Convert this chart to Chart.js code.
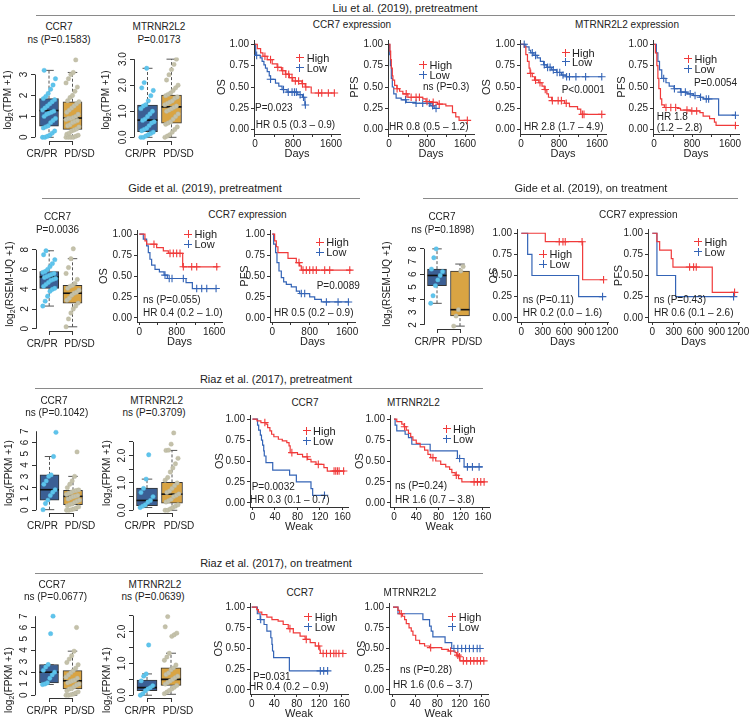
<!DOCTYPE html>
<html><head><meta charset="utf-8">
<script src="https://cdn.jsdelivr.net/npm/chart.js@4.4.1/dist/chart.umd.min.js"></script>
<style>
html,body{margin:0;padding:0;background:#fff;}
#fig{position:relative;width:750px;height:718px;overflow:hidden;font-family:"Liberation Sans",Arial,Helvetica,sans-serif;color:#222;}
#fig canvas{position:absolute;}
.t{position:absolute;white-space:nowrap;line-height:1;}
.t sub{font-size:70%;vertical-align:-0.25em;line-height:0;}
.hr{position:absolute;height:0;border-top:1.4px solid #8a8a8a;}
</style></head><body><div id="fig"></div>
<script>
// ================= DATA =================
const groups = ['CR/PR', 'PD/SD'];
const survTicks = [0, 0.25, 0.5, 0.75, 1];
const dayTicks = [0, 400, 800, 1200, 1600];
const dayTickLabels = ['0', '', '800', '', '1600'];
const gideOnDayTicks = [0, 300, 600, 900, 1200];
const gideOnDayLabels = ['0', '300', '600', '900', '1200'];
const weekTicks = [0, 40, 80, 120, 160];
const weekTickLabels = ['0', '40', '80', '120', '160'];

// boxplot stats: [lower whisker, Q1, median, Q3, upper whisker]
const liuCcr7BoxCR = [0, 0.53, 1.28, 1.85, 3.2];
const liuCcr7BoxPD = [0, 0.38, 0.92, 1.7, 3.1];
const liuMtrBoxCR = [0, 0.22, 0.66, 1.24, 2.65];
const liuMtrBoxPD = [0, 0.54, 1.17, 1.62, 3.0];
const gidePreBoxCR = [2.3, 4.1, 5.25, 5.8, 7.9];
const gidePreBoxPD = [0.2, 2.6, 3.6, 4.4, 7.1];
const gideOnBoxCR = [3.7, 5.1, 5.9, 6.4, 8.0];
const gideOnBoxPD = [1.9, 2.7, 3.2, 6.25, 6.8];
const riazPreCcr7BoxCR = [0.05, 0.9, 1.82, 3.13, 4.76];
const riazPreCcr7BoxPD = [0, 0.49, 1.23, 1.77, 3.0];
const riazPreMtrBoxCR = [0.1, 0.17, 0.36, 0.81, 1.14];
const riazPreMtrBoxPD = [0, 0.26, 0.59, 1.02, 2.19];
const riazOnCcr7BoxCR = [0.95, 1.09, 2.04, 2.72, 2.72];
const riazOnCcr7BoxPD = [0, 0.55, 1.28, 2.18, 3.9];
const riazOnMtrBoxCR = [0, 0.14, 0.24, 0.48, 0.67];
const riazOnMtrBoxPD = [0.03, 0.31, 0.5, 0.86, 1.32];

// boxplot individual points
const liuCcr7PtsCR = [0,0,0.05,0.1,0.2,0.3,0.45,0.5,0.55,0.7,0.8,0.9,1.0,1.1,1.15,1.2,1.25,1.3,1.4,1.5,1.6,1.7,1.8,1.85,1.95,2.1,2.3,2.5,2.8,3.2];
const liuCcr7PtsPD = [0,0,0,0,0.05,0.1,0.15,0.2,0.3,0.35,0.4,0.5,0.55,0.6,0.7,0.75,0.8,0.85,0.9,0.9,0.95,1.0,1.1,1.2,1.3,1.4,1.5,1.6,1.7,1.75,1.9,2.0,2.2,2.4,2.6,2.8,3.0,3.1,3.7];
const liuMtrPtsCR = [0,0,0.05,0.1,0.15,0.2,0.25,0.3,0.35,0.45,0.55,0.6,0.65,0.7,0.8,0.9,1.0,1.1,1.2,1.25,1.4,1.6,1.8,1.9,2.1,2.65];
const liuMtrPtsPD = [0,0.05,0.1,0.2,0.3,0.4,0.5,0.55,0.6,0.7,0.8,0.9,1.0,1.05,1.1,1.15,1.2,1.25,1.3,1.35,1.4,1.5,1.55,1.6,1.65,1.7,1.8,1.9,2.0,2.2,2.4,2.6,2.8,3.0];
const gidePrePtsCR = [2.3,2.8,3.3,3.8,4.0,4.1,4.3,4.5,4.7,4.9,5.0,5.1,5.2,5.3,5.4,5.5,5.6,5.7,5.8,6.0,6.3,6.6,7.0,7.5,7.9];
const gidePrePtsPD = [0.2,1.0,1.6,2.0,2.3,2.6,2.9,3.1,3.4,3.6,3.7,3.9,4.1,4.3,4.4,4.6,5.0,5.6,6.2,7.1,8.1];
const gideOnPtsCR = [3.7,4.3,5.1,5.55,5.9,6.2,6.4,7.3,8.0];
const gideOnPtsPD = [1.9,2.7,3.2,6.25,6.6];
const riazPreCcr7PtsCR = [0.05,0.6,0.9,1.3,1.6,1.82,2.3,2.6,3.0,3.13,4.76,6.9];
const riazPreCcr7PtsPD = [0,0,0.05,0.1,0.2,0.3,0.4,0.5,0.55,0.7,0.8,0.9,1.0,1.1,1.2,1.25,1.3,1.4,1.5,1.6,1.7,1.75,1.8,2.0,2.3,2.6,3.0,5.17];
const riazPreMtrPtsCR = [0.1,0.15,0.2,0.3,0.36,0.5,0.65,0.8,1.14,2.03];
const riazPreMtrPtsPD = [0,0,0.05,0.1,0.15,0.2,0.3,0.35,0.4,0.5,0.55,0.6,0.65,0.7,0.8,0.9,1.0,1.1,1.2,1.4,1.55,1.7,1.9,2.19,2.2,2.42,2.83];
const riazOnCcr7PtsCR = [0.95,1.0,1.1,1.5,1.8,2.04,2.2,2.5,2.72,5.45,7.0];
const riazOnCcr7PtsPD = [0,0,0.05,0.1,0.2,0.3,0.4,0.55,0.6,0.75,0.9,1.0,1.1,1.2,1.28,1.35,1.5,1.6,1.8,2.0,2.18,2.4,2.7,2.9,3.2,3.5,3.9,6.0];
const riazOnMtrPtsCR = [0,0.05,0.14,0.2,0.24,0.3,0.45,0.6,0.67,1.58];
const riazOnMtrPtsPD = [0.05,0.1,0.15,0.2,0.25,0.31,0.35,0.4,0.45,0.5,0.55,0.6,0.65,0.7,0.8,0.86,0.95,1.1,1.2,1.32,1.85,1.9,1.95,2.15,2.47];

// Kaplan-Meier curves: [time, survival] ; censor times
const liuCcr7OsHigh = [[0,1],[49,0.95],[118,0.90],[167,0.86],[257,0.82],[362,0.77],[466,0.73],[557,0.69],[640,0.65],[724,0.61],[793,0.57],[988,0.54],[1057,0.50],[1183,0.43],[1683,0.43]];
const liuCcr7OsHighCens = [209,327,480,584,650,710,779,849,918,1000,1070,1336,1405,1544,1670];
const liuCcr7OsLow = [[0,1],[14,0.87],[110,0.84],[150,0.80],[188,0.76],[220,0.72],[257,0.68],[300,0.63],[327,0.59],[431,0.545],[501,0.51],[570,0.47],[675,0.44],[900,0.41],[1000,0.38],[1050,0.29],[1060,0.29]];
const liuCcr7OsLowCens = [35,327,600,700,780,830,870,950,1020,1060];
const liuCcr7PfsHigh = [[0,1],[20,0.92],[35,0.82],[49,0.72],[70,0.63],[83,0.58],[118,0.52],[167,0.48],[223,0.45],[292,0.42],[397,0.38],[710,0.36],[779,0.33],[918,0.32],[1023,0.30],[1197,0.28],[1336,0.20],[1405,0.15],[1475,0.11],[1649,0.11]];
const liuCcr7PfsHighCens = [170,362,466,570,640,800,930,1057,1649];
const liuCcr7PfsLow = [[0,1],[15,0.88],[30,0.75],[49,0.6],[70,0.5],[100,0.42],[150,0.37],[257,0.35],[362,0.32],[560,0.31],[880,0.28],[950,0.25],[990,0.25]];
const liuCcr7PfsLowCens = [348,570,710,849,918,990];
const liuMtrOsHigh = [[0,1],[68,0.97],[102,0.88],[136,0.80],[170,0.72],[190,0.66],[238,0.62],[286,0.58],[374,0.55],[442,0.51],[490,0.47],[544,0.42],[578,0.38],[646,0.34],[918,0.31],[1020,0.27],[1190,0.24],[1258,0.18],[1700,0.18]];
const liuMtrOsHighCens = [204,306,400,510,660,782,850,952,1292,1326,1700];
const liuMtrOsLow = [[0,1],[102,0.97],[170,0.93],[204,0.90],[272,0.87],[340,0.84],[408,0.80],[476,0.76],[544,0.73],[646,0.70],[748,0.67],[850,0.64],[952,0.62],[1700,0.62]];
const liuMtrOsLowCens = [68,238,306,490,560,612,680,760,816,884,960,1020,1156,1360,1700];
const liuMtrPfsHigh = [[0,1],[30,0.9],[60,0.75],[82,0.6],[102,0.48],[136,0.36],[163,0.29],[218,0.26],[490,0.25],[558,0.23],[762,0.22],[966,0.20],[1034,0.16],[1170,0.13],[1272,0.09],[1306,0.05],[1714,0.05]];
const liuMtrPfsHighCens = [252,354,456,694,796,898,1714];
const liuMtrPfsLow = [[0,1],[50,0.9],[82,0.8],[116,0.7],[163,0.6],[252,0.55],[320,0.51],[422,0.48],[558,0.44],[694,0.42],[830,0.40],[966,0.38],[1034,0.36],[1360,0.17],[1714,0.17]];
const liuMtrPfsLowCens = [204,430,570,660,762,864,980,1100,1150,1714];

const gidePreOsHigh = [[0,1],[121,0.92],[157,0.88],[371,0.84],[514,0.80],[621,0.77],[928,0.61],[1692,0.61]];
const gidePreOsHighCens = [314,657,728,800,871,942,1121,1228,1657];
const gidePreOsLow = [[0,1],[86,0.94],[157,0.86],[193,0.78],[228,0.70],[264,0.63],[336,0.58],[430,0.55],[530,0.51],[600,0.47],[1000,0.42],[1135,0.35],[1657,0.35]];
const gidePreOsLowCens = [550,640,700,942,1228,1335,1443,1642];
const gidePrePfsHigh = [[0,1],[50,0.92],[86,0.85],[121,0.78],[336,0.71],[514,0.66],[585,0.62],[621,0.57],[1692,0.57]];
const gidePrePfsHighCens = [571,657,728,800,871,942,1121,1228,1657];
const gidePrePfsLow = [[0,1],[29,0.88],[71,0.78],[100,0.66],[143,0.56],[193,0.48],[243,0.43],[300,0.40],[407,0.37],[514,0.32],[585,0.29],[800,0.25],[907,0.22],[1050,0.19],[1642,0.19]];
const gidePrePfsLowCens = [621,693,1157,1407,1628];
const gideOnOsHigh = [[0,1],[336,0.9],[858,0.45],[1151,0.45]];
const gideOnOsHighCens = [531,583,615,850,1151];
const gideOnOsLow = [[0,1],[89,0.75],[149,0.5],[802,0.25],[1137,0.25]];
const gideOnOsLowCens = [1137];
const gideOnPfsHigh = [[0,1],[65,0.9],[103,0.8],[266,0.7],[289,0.6],[839,0.3],[1151,0.3]];
const gideOnPfsHighCens = [522,578,615,1151];
const gideOnPfsLow = [[0,1],[65,0.5],[326,0.25],[1137,0.25]];
const gideOnPfsLowCens = [1137];

const riazPreCcr7High = [[0,1],[8,0.98],[15,0.96],[24,0.94],[27,0.90],[31,0.86],[34,0.82],[38,0.79],[46,0.76],[53,0.74],[61,0.72],[65,0.68],[67,0.60],[80,0.58],[89,0.55],[98,0.52],[104,0.49],[113,0.46],[127,0.42],[133,0.38],[164,0.38]];
const riazPreCcr7HighCens = [22,70,97,117,145,148,151,154,162];
const riazPreCcr7Low = [[0,1],[9,0.93],[11,0.87],[14,0.81],[16,0.75],[18,0.69],[20,0.62],[21,0.56],[24,0.48],[36,0.39],[66,0.33],[78,0.25],[104,0.17],[107,0.09],[128,0.09]];
const riazPreCcr7LowCens = [128];
const riazPreMtrHigh = [[0,1],[5,0.97],[14,0.94],[18,0.91],[22,0.87],[26,0.83],[30,0.79],[34,0.75],[40,0.71],[47,0.67],[55,0.63],[61,0.58],[66,0.54],[75,0.50],[84,0.46],[93,0.43],[100,0.40],[104,0.36],[110,0.33],[116,0.29],[122,0.25],[163,0.25]];
const riazPreMtrHighCens = [19,70,112,144,150,156,162];
const riazPreMtrLow = [[0,1],[2,0.93],[5,0.86],[20,0.82],[26,0.78],[32,0.70],[65,0.62],[114,0.53],[126,0.43],[159,0.43]];
const riazPreMtrLowCens = [118,132,141,153];

const riazOnCcr7High = [[0,1],[9,0.97],[12,0.94],[18,0.91],[27,0.88],[36,0.85],[47,0.83],[56,0.79],[65,0.74],[74,0.69],[86,0.65],[95,0.61],[104,0.57],[113,0.53],[121,0.48],[122,0.44],[164,0.44]];
const riazOnCcr7HighCens = [68,97,119,127,133,140,146,150,155,162];
const riazOnCcr7Low = [[0,1],[10,0.92],[15,0.85],[22,0.79],[27,0.71],[34,0.63],[36,0.55],[37,0.47],[39,0.39],[67,0.23],[136,0.23]];
const riazOnCcr7LowCens = [16,122,128,135];
const riazOnMtrHigh = [[0,1],[9,0.96],[12,0.92],[17,0.89],[21,0.85],[24,0.80],[29,0.75],[33,0.71],[36,0.66],[41,0.60],[48,0.56],[57,0.53],[66,0.51],[88,0.49],[100,0.47],[112,0.45],[115,0.42],[118,0.40],[121,0.35],[164,0.35]];
const riazOnMtrHighCens = [15,68,104,117,120,127,133,140,146,152,158,164];
const riazOnMtrLow = [[0,1],[9,0.92],[54,0.85],[66,0.77],[69,0.71],[72,0.64],[94,0.57],[106,0.50],[157,0.50]];
const riazOnMtrLowCens = [110,117,124,131,138,145,152,157];

// ================= RENDERING =================
const RED = '#f03a3a', BLUE = '#3464b6';
const BOXCR = '#3b5f94', BOXPD = '#d9a443', PTCR = '#5ec4ec', PTPD = '#c4c1aa';
const AX = '#333';
Chart.defaults.font.family = '"Liberation Sans", Arial, Helvetica, sans-serif';
Chart.defaults.font.size = 10;
Chart.defaults.color = '#222';
const fig = document.getElementById('fig');

function mk(x, y, w, h) {
  const c = document.createElement('canvas');
  c.width = w; c.height = h;
  c.style.left = x + 'px'; c.style.top = y + 'px';
  c.style.width = w + 'px'; c.style.height = h + 'px';
  fig.appendChild(c); return c;
}
function T(str, x, y, size, align) {
  const d = document.createElement('div'); d.className = 't';
  d.textContent = str; d.style.fontSize = size + 'px';
  d.style.left = x + 'px'; d.style.top = y + 'px';
  d.style.transform = align === 'c' ? 'translate(-50%,-50%)' : 'translate(0,-50%)';
  fig.appendChild(d); return d;
}
function Y(html, x, y) {
  const d = document.createElement('div'); d.className = 't';
  d.innerHTML = html; d.style.fontSize = '10px';
  d.style.left = x + 'px'; d.style.top = y + 'px';
  d.style.transform = 'translate(-50%,-50%) rotate(-90deg)';
  fig.appendChild(d);
}
function S(text, cx, ty, x1, x2, ly) {
  T(text, cx, ty, 11, 'c');
  const d = document.createElement('div'); d.className = 'hr';
  d.style.left = x1 + 'px'; d.style.top = ly + 'px'; d.style.width = (x2 - x1) + 'px';
  fig.appendChild(d);
}
function L(cx, cy, tx, label, color) {
  const h = document.createElement('div');
  h.style.cssText = `position:absolute;left:${cx - 4}px;top:${cy - 0.6}px;width:8px;height:0;border-top:1.2px solid ${color}`;
  const v = document.createElement('div');
  v.style.cssText = `position:absolute;left:${cx - 0.6}px;top:${cy - 4}px;width:0;height:8px;border-left:1.2px solid ${color}`;
  fig.append(h, v);
  T(label, tx, cy, 11, 'l');
}

const steps = c => c.map(p => ({x: p[0], y: p[1]}));
const cens = (c, times) => times.map(t => { let s = 1; for (const p of c) if (p[0] <= t) s = p[1]; return {x: t, y: s}; });
const jit = i => ((((i * 37) % 17) / 16) - 0.5) * 0.55;

function km(o) {
  const padT = 8, padR = 16, H = 27;
  const w = Math.round(o.W + (o.r - o.l) + padR), h = Math.round(padT + (o.b - o.t) + H);
  const cv = mk(o.l - o.W, o.t - padT, w, h);
  const ds = [
    {data: cens(o.high, o.highC), borderColor: RED, backgroundColor: RED, pointStyle: 'cross', pointRadius: 3.8, borderWidth: 1.1, showLine: false, order: 0},
    {data: cens(o.low, o.lowC), borderColor: BLUE, backgroundColor: BLUE, pointStyle: 'cross', pointRadius: 3.8, borderWidth: 1.1, showLine: false, order: 0},
    {data: steps(o.low), borderColor: BLUE, borderWidth: 1.2, showLine: true, stepped: true, pointRadius: 0, order: 2},
    {data: steps(o.high), borderColor: RED, borderWidth: 1.2, showLine: true, stepped: true, pointRadius: 0, order: 1}
  ];
  new Chart(cv, {
    type: 'scatter', data: {datasets: ds},
    options: {
      responsive: false, animation: false, events: [],
      layout: {padding: {top: padT, right: padR, left: 0, bottom: 0}},
      plugins: {legend: {display: false}, tooltip: {enabled: false}},
      scales: {
        x: {type: 'linear', min: o.xmin, max: o.xmax,
          afterBuildTicks: s => { s.ticks = o.xticks.map(v => ({value: v})); },
          afterFit: s => { s.height = H; s.paddingLeft = 0; s.paddingRight = 0; },
          ticks: {autoSkip: false, maxRotation: 0, minRotation: 0, padding: 1, font: {size: 10}, color: '#222', callback: (v, i) => o.xlabels[i]},
          grid: {drawOnChartArea: false, drawTicks: true, tickLength: 3, color: AX},
          border: {display: true, color: AX, width: 1},
          title: {display: true, text: o.xtitle, font: {size: 11}, color: '#222', padding: {top: 0, bottom: 0}}},
        y: {type: 'linear', min: -0.05, max: 1.05,
          afterBuildTicks: s => { s.ticks = survTicks.map(v => ({value: v})); },
          afterFit: s => { s.width = o.W; s.paddingTop = 0; s.paddingBottom = 0; },
          ticks: {padding: 2, font: {size: 10}, color: '#222', callback: v => v.toFixed(2)},
          grid: {drawOnChartArea: false, drawTicks: true, tickLength: 3, color: AX},
          border: {display: true, color: AX, width: 1},
          title: {display: true, text: o.ytitle, font: {size: 11}, color: '#222', padding: {top: 0, bottom: 0}}}
      }
    }
  });
}

function bx(o) {
  const ppx = o.cx2 - o.cx1;
  const left = Math.round(o.cx1 - 0.58 * ppx), right = Math.round(o.cx2 + 0.58 * ppx);
  const W = 26, padT = 4, padR = 16, H = 22;
  const xmin = 1 - (o.cx1 - left) / ppx, xmax = 2 + (right - o.cx2) / ppx;
  const ymin = (o.y0 - o.bottom) / o.ppu, ymax = (o.y0 - o.top) / o.ppu;
  const bw = Math.round(0.82 * ppx);
  const w = W + right - left + padR, h = padT + o.bottom - o.top + H;
  const cv = mk(left - W, o.top - padT, w, h);
  const [s1, s2] = o.stats;
  // tick marks at the two groups; group names set slightly outward so they do not collide
  const xTickVals = [1 - 7 / ppx, 1, 2, 2 + 7 / ppx];
  const xTickLabs = [groups[0], '', '', groups[1]];
  const ds = [];
  o.pts.forEach((arr, g) => ds.push({type: 'scatter', data: arr.map((v, i) => ({x: g + 1 + jit(i), y: v})),
    backgroundColor: g ? PTPD : PTCR, borderColor: g ? '#b5b29b' : '#4fb6e0', borderWidth: 0.4, pointRadius: 2.2, order: 0}));
  ds.push({type: 'scatter', data: [{x: 1, y: s1[2]}, {x: 2, y: s2[2]}], pointStyle: 'line', pointRadius: bw / 2, borderColor: '#111', borderWidth: 1.6, order: 1});
  ds.push({type: 'scatter', data: [{x: 1, y: s1[0]}, {x: 1, y: s1[4]}, {x: 2, y: s2[0]}, {x: 2, y: s2[4]}], pointStyle: 'line', pointRadius: bw / 4, borderColor: '#555', borderWidth: 1, order: 2});
  [s1, s2].forEach((s, g) => {
    ds.push({type: 'line', data: [{x: g + 1, y: s[3]}, {x: g + 1, y: s[4]}], borderColor: '#555', borderWidth: 1, borderDash: [3, 2], pointRadius: 0, order: 2});
    ds.push({type: 'line', data: [{x: g + 1, y: s[0]}, {x: g + 1, y: s[1]}], borderColor: '#555', borderWidth: 1, borderDash: [3, 2], pointRadius: 0, order: 2});
  });
  ds.push({type: 'bar', data: [{x: 1, y: [s1[1], s1[3]]}, {x: 2, y: [s2[1], s2[3]]}], backgroundColor: [BOXCR, BOXPD],
    borderColor: '#333', borderWidth: 1, borderSkipped: false, barThickness: bw, order: 3});
  const axisPlug = {
    id: 'boxAxis',
    afterDraw(chart) {
      const {ctx, chartArea: a, scales: {x, y}} = chart;
      ctx.save(); ctx.strokeStyle = AX; ctx.lineWidth = 1;
      ctx.beginPath();
      const yt = o.yticks;
      ctx.moveTo(a.left + 0.5, y.getPixelForValue(yt[0])); ctx.lineTo(a.left + 0.5, y.getPixelForValue(yt[yt.length - 1]));
      ctx.moveTo(x.getPixelForValue(1), a.bottom + 0.5); ctx.lineTo(x.getPixelForValue(2), a.bottom + 0.5);
      ctx.stroke();
      ctx.fillStyle = '#222'; ctx.font = '10px "Liberation Sans", Arial, sans-serif';
      ctx.textAlign = 'center'; ctx.textBaseline = 'alphabetic';
      yt.forEach((v, i) => {
        const lab = o.ylabels[i]; if (!lab) return;
        ctx.save(); ctx.translate(a.left - 8, y.getPixelForValue(v)); ctx.rotate(-Math.PI / 2);
        ctx.fillText(lab, 0, 0); ctx.restore();
      });
      ctx.restore();
    }
  };
  new Chart(cv, {
    type: 'bar', data: {datasets: ds},
    options: {
      responsive: false, animation: false, events: [],
      layout: {padding: {top: padT, right: padR, left: 0, bottom: 0}},
      plugins: {legend: {display: false}, tooltip: {enabled: false}},
      scales: {
        x: {type: 'linear', offset: false, min: xmin, max: xmax,
          afterBuildTicks: s => { s.ticks = xTickVals.map(v => ({value: v})); },
          afterFit: s => { s.height = H; s.paddingLeft = 0; s.paddingRight = 0; },
          ticks: {autoSkip: false, maxRotation: 0, minRotation: 0, padding: 3, font: {size: 10}, color: '#222', callback: (v, i) => xTickLabs[i]},
          grid: {offset: false, drawOnChartArea: false, drawTicks: true, tickLength: 4,
            tickColor: ctx => (ctx.index === 1 || ctx.index === 2) ? AX : 'rgba(0,0,0,0)'},
          border: {display: false}},
        y: {type: 'linear', min: ymin, max: ymax, beginAtZero: false,
          afterBuildTicks: s => { s.ticks = o.yticks.map(v => ({value: v})); },
          afterFit: s => { s.width = W; s.paddingTop = 0; s.paddingBottom = 0; },
          ticks: {callback: () => ''},
          grid: {drawOnChartArea: false, drawTicks: true, tickLength: 4, color: AX},
          border: {display: false}}
      }
    },
    plugins: [axisPlug]
  });
}

// ---------- Row 1: Liu ----------
S('Liu et al. (2019), pretreatment', 405, 7.5, 36, 735, 14.5);
bx({y0: 137, ppu: 22.67, top: 49, bottom: 141, cx1: 49, cx2: 72.5, yticks: [0, 1, 2, 3], ylabels: ['0', '1', '2', '3'],
  stats: [liuCcr7BoxCR, liuCcr7BoxPD], pts: [liuCcr7PtsCR, liuCcr7PtsPD]});
bx({y0: 137, ppu: 28.43, top: 50, bottom: 141, cx1: 147.5, cx2: 171.5, yticks: [0, 1, 2, 3], ylabels: ['0.0', '1.0', '2.0', '3.0'],
  stats: [liuMtrBoxCR, liuMtrBoxPD], pts: [liuMtrPtsCR, liuMtrPtsPD]});
T('CCR7', 59, 27, 10, 'c'); T('ns (P=0.1583)', 59, 40, 10, 'c');
T('MTRNR2L2', 159, 27, 10, 'c'); T('P=0.0173', 159, 40, 10, 'c');
Y('log<sub>2</sub>(TPM +1)', 8, 100); Y('log<sub>2</sub>(TPM +1)', 106, 100);
T('CCR7 expression', 352, 25, 10, 'c'); T('MTRNR2L2 expression', 627, 25, 10, 'c');
const liuX = {t: 40, b: 134, xmin: -21, xmax: 1789, xticks: dayTicks, xlabels: dayTickLabels, xtitle: 'Days'};
km(Object.assign({l: 254, r: 340, W: 39, ytitle: 'OS', high: liuCcr7OsHigh, highC: liuCcr7OsHighCens, low: liuCcr7OsLow, lowC: liuCcr7OsLowCens}, liuX));
km(Object.assign({l: 388, r: 474, W: 40, ytitle: 'PFS', high: liuCcr7PfsHigh, highC: liuCcr7PfsHighCens, low: liuCcr7PfsLow, lowC: liuCcr7PfsLowCens}, liuX));
km(Object.assign({l: 520, r: 606, W: 40, ytitle: 'OS', high: liuMtrOsHigh, highC: liuMtrOsHighCens, low: liuMtrOsLow, lowC: liuMtrOsLowCens}, liuX));
km(Object.assign({l: 653, r: 739, W: 38, ytitle: 'PFS', high: liuMtrPfsHigh, highC: liuMtrPfsHighCens, low: liuMtrPfsLow, lowC: liuMtrPfsLowCens}, liuX));
L(300, 58, 306.7, 'High', RED); L(300, 68, 306.7, 'Low', BLUE);
T('P=0.023', 255, 108, 10, 'l'); T('HR 0.5 (0.3 – 0.9)', 255.7, 125, 10, 'l');
L(423.3, 65, 429.5, 'High', RED); L(423.3, 74.7, 429.5, 'Low', BLUE);
T('ns (P=0.3)', 423, 87, 10, 'l'); T('HR 0.8 (0.5 – 1.2)', 389, 127, 10, 'l');
L(566, 52.7, 572, 'High', RED); L(566, 61.7, 572, 'Low', BLUE);
T('P<0.0001', 561.7, 90, 10, 'l'); T('HR 2.8 (1.7 – 4.9)', 524, 127, 10, 'l');
L(688.3, 59, 694.5, 'High', RED); L(688.3, 68.7, 694.5, 'Low', BLUE);
T('P=0.0054', 694, 82.7, 10, 'l'); T('HR 1.8', 656.7, 117, 10, 'l'); T('(1.2 – 2.8)', 656.7, 127.7, 10, 'l');

// ---------- Row 2: Gide ----------
S('Gide et al. (2019), pretreatment', 205, 188.3, 42, 360, 198.3);
S('Gide et al. (2019), on treatment', 591, 188.3, 423, 738, 198.3);
bx({y0: 328.6, ppu: 10.7, top: 239, bottom: 331, cx1: 49.2, cx2: 72.5, yticks: [0, 2, 4, 6, 8], ylabels: ['0', '2', '4', '6', '8'],
  stats: [gidePreBoxCR, gidePreBoxPD], pts: [gidePrePtsCR, gidePrePtsPD]});
T('CCR7', 57.5, 216.7, 10, 'c'); T('P=0.0036', 57.5, 230, 10, 'c');
Y('log<sub>2</sub>(RSEM-UQ +1)', 10, 284);
T('CCR7 expression', 247.5, 215, 10, 'c');
const gidePreX = {t: 230, b: 322, xmin: -49, xmax: 1769, xticks: dayTicks, xlabels: dayTickLabels, xtitle: 'Days'};
km(Object.assign({l: 137, r: 222, W: 40, ytitle: 'OS', high: gidePreOsHigh, highC: gidePreOsHighCens, low: gidePreOsLow, lowC: gidePreOsLowCens}, gidePreX));
km(Object.assign({l: 270, r: 355, W: 32, ytitle: 'PFS', high: gidePrePfsHigh, highC: gidePrePfsHighCens, low: gidePrePfsLow, lowC: gidePrePfsLowCens}, gidePreX));
L(188.3, 234.3, 194.5, 'High', RED); L(188.3, 244.3, 194.5, 'Low', BLUE);
T('ns (P=0.055)', 143, 300, 10, 'l'); T('HR 0.4 (0.2 – 1.0)', 143, 313, 10, 'l');
L(320, 242.3, 326.2, 'High', RED); L(320, 252.3, 326.2, 'Low', BLUE);
T('P=0.0089', 316.7, 285.7, 10, 'l'); T('HR 0.5 (0.2 – 0.9)', 274, 313, 10, 'l');

bx({y0: 352, ppu: 13.75, top: 239, bottom: 329, cx1: 437, cx2: 460, yticks: [2, 3, 4, 5, 6, 7, 8], ylabels: ['2', '3', '4', '5', '6', '7', '8'],
  stats: [gideOnBoxCR, gideOnBoxPD], pts: [gideOnPtsCR, gideOnPtsPD]});
T('CCR7', 442, 216.7, 10, 'c'); T('ns (P=0.1898)', 442.7, 230, 10, 'c');
Y('log<sub>2</sub>(RSEM-UQ +1)', 387, 284);
T('CCR7 expression', 638.3, 215, 10, 'c');
const gideOnX = {t: 229, b: 322, xmin: -60, xmax: 1213, xticks: gideOnDayTicks, xlabels: gideOnDayLabels, xtitle: 'Days'};
km(Object.assign({l: 517, r: 608, W: 30, ytitle: 'OS', high: gideOnOsHigh, highC: gideOnOsHighCens, low: gideOnOsLow, lowC: gideOnOsLowCens}, gideOnX));
km(Object.assign({l: 648, r: 739, W: 36, ytitle: 'PFS', high: gideOnPfsHigh, highC: gideOnPfsHighCens, low: gideOnPfsLow, lowC: gideOnPfsLowCens}, gideOnX));
L(543.3, 254.3, 549.5, 'High', RED); L(543.3, 264.3, 549.5, 'Low', BLUE);
T('ns (P=0.11)', 522.7, 300, 10, 'l'); T('HR 0.2 (0.0 – 1.6)', 522.7, 313, 10, 'l');
L(698.3, 242, 704.5, 'High', RED); L(698.3, 252, 704.5, 'Low', BLUE);
T('ns (P=0.43)', 654, 300, 10, 'l'); T('HR 0.6 (0.1 – 2.6)', 654, 313, 10, 'l');

// ---------- Row 3: Riaz pretreatment ----------
S('Riaz et al. (2017), pretreatment', 276, 379, 35, 483, 388);
bx({y0: 510, ppu: 12.24, top: 422, bottom: 513, cx1: 49.5, cx2: 73, yticks: [0, 1, 2, 3, 4, 5, 6, 7], ylabels: ['0', '1', '2', '3', '4', '5', '6', '7'],
  stats: [riazPreCcr7BoxCR, riazPreCcr7BoxPD], pts: [riazPreCcr7PtsCR, riazPreCcr7PtsPD]});
bx({y0: 510, ppu: 30, top: 422, bottom: 513, cx1: 147, cx2: 172, yticks: [0, 0.5, 1, 1.5, 2, 2.5], ylabels: ['0.0', '', '1.0', '', '2.0', ''],
  stats: [riazPreMtrBoxCR, riazPreMtrBoxPD], pts: [riazPreMtrPtsCR, riazPreMtrPtsPD]});
T('CCR7', 54, 401, 10, 'c'); T('ns (P=0.1042)', 56.7, 413.3, 10, 'c');
T('MTRNR2L2', 156.7, 401, 10, 'c'); T('ns (P=0.3709)', 154, 413.3, 10, 'c');
Y('log<sub>2</sub>(FPKM +1)', 8.5, 473); Y('log<sub>2</sub>(FPKM +1)', 106.5, 473);
T('CCR7', 305, 403, 10, 'c'); T('MTRNR2L2', 413.3, 403, 10, 'c');
km({l: 250, r: 348, t: 415, b: 507, W: 37, xmin: -4.4, xmax: 169.8, xticks: weekTicks, xlabels: weekTickLabels, xtitle: 'Weak', ytitle: 'OS',
  high: riazPreCcr7High, highC: riazPreCcr7HighCens, low: riazPreCcr7Low, lowC: riazPreCcr7LowCens});
km({l: 390, r: 489, t: 415, b: 507, W: 37, xmin: -7.2, xmax: 170.8, xticks: weekTicks, xlabels: weekTickLabels, xtitle: 'Weak', ytitle: 'OS',
  high: riazPreMtrHigh, highC: riazPreMtrHighCens, low: riazPreMtrLow, lowC: riazPreMtrLowCens});
L(306.7, 430.7, 313, 'High', RED); L(306.7, 440.7, 313, 'Low', BLUE);
T('P=0.0032', 251.7, 486.7, 10, 'l'); T('HR 0.3 (0.1 – 0.7)', 250, 500, 10, 'l');
L(446.7, 429, 453, 'High', RED); L(446.7, 439, 453, 'Low', BLUE);
T('ns (P=0.24)', 395, 486, 10, 'l'); T('HR 1.6 (0.7 – 3.8)', 395, 500, 10, 'l');

// ---------- Row 4: Riaz on treatment ----------
S('Riaz et al. (2017), on treatment', 276, 563, 35, 483, 573);
bx({y0: 695, ppu: 12.24, top: 606, bottom: 698, cx1: 49, cx2: 72.5, yticks: [0, 1, 2, 3, 4, 5, 6, 7], ylabels: ['0', '1', '2', '3', '4', '5', '6', '7'],
  stats: [riazOnCcr7BoxCR, riazOnCcr7BoxPD], pts: [riazOnCcr7PtsCR, riazOnCcr7PtsPD]});
bx({y0: 695, ppu: 34.7, top: 606, bottom: 698, cx1: 147, cx2: 171, yticks: [0, 0.5, 1, 1.5, 2, 2.5], ylabels: ['0.0', '', '1.0', '', '2.0', ''],
  stats: [riazOnMtrBoxCR, riazOnMtrBoxPD], pts: [riazOnMtrPtsCR, riazOnMtrPtsPD]});
T('CCR7', 52, 585, 10, 'c'); T('ns (P=0.0677)', 55.5, 597, 10, 'c');
T('MTRNR2L2', 155, 585, 10, 'c'); T('ns (P=0.0639)', 153, 597, 10, 'c');
Y('log<sub>2</sub>(FPKM +1)', 8.5, 680); Y('log<sub>2</sub>(FPKM +1)', 106.5, 680);
T('CCR7', 300, 593, 10, 'c'); T('MTRNR2L2', 410, 593, 10, 'c');
km({l: 250, r: 348, t: 603, b: 694, W: 38, xmin: -3, xmax: 171.2, xticks: weekTicks, xlabels: weekTickLabels, xtitle: 'Weak', ytitle: 'OS',
  high: riazOnCcr7High, highC: riazOnCcr7HighCens, low: riazOnCcr7Low, lowC: riazOnCcr7LowCens});
km({l: 389, r: 488, t: 603, b: 694, W: 34, xmin: -7.2, xmax: 171.5, xticks: weekTicks, xlabels: weekTickLabels, xtitle: 'Weak', ytitle: 'OS',
  high: riazOnMtrHigh, highC: riazOnMtrHighCens, low: riazOnMtrLow, lowC: riazOnMtrLowCens});
L(308.3, 617, 314.7, 'High', RED); L(308.3, 627, 314.7, 'Low', BLUE);
T('P=0.031', 253, 676.7, 10, 'l'); T('HR 0.4 (0.2 – 0.9)', 249, 687, 10, 'l');
L(452.3, 617, 458.7, 'High', RED); L(452.3, 627, 458.7, 'Low', BLUE);
T('ns (P=0.28)', 400, 670, 10, 'l'); T('HR 1.6 (0.6 – 3.7)', 393, 685, 10, 'l');
</script></body></html>
